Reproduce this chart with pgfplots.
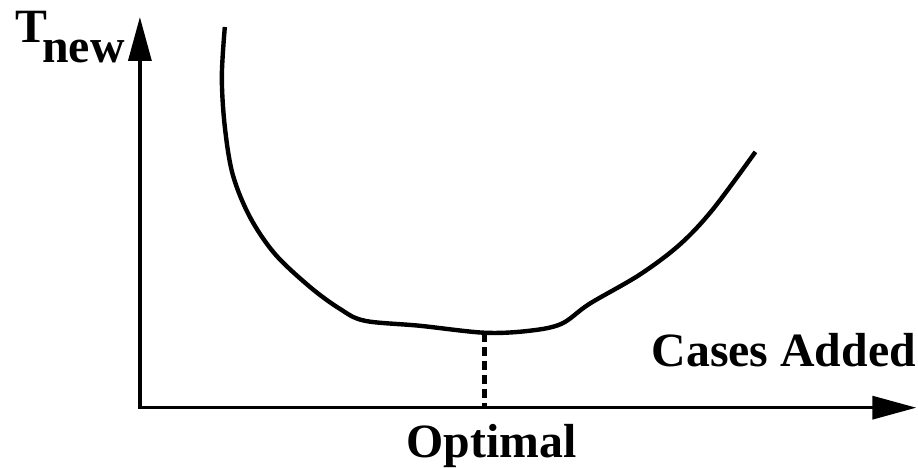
\documentclass[border=0pt]{standalone}
\usepackage{fontspec}
\setmainfont{Liberation Serif}
\usepackage{pgfplots}
\pgfplotsset{compat=1.18}
\usetikzlibrary{arrows.meta}

\begin{document}
\begin{tikzpicture}
\begin{axis}[
  scale only axis, width=459bp, height=233.5bp,
  xmin=0, xmax=918, ymin=0, ymax=467,
  hide axis, clip=false,
]
% invisible frame, keeps the page at the reference size
\path (axis cs:0,0) rectangle (axis cs:918,467);
% axes
\draw[line width=1.7bp,-{Triangle[length=22bp,width=11.5bp]}]
  (axis cs:138,59) -- (axis cs:917,59);
\draw[line width=1.7bp,-{Triangle[length=22bp,width=11.5bp]}]
  (axis cs:140,59) -- (axis cs:140,450);
% cost curve
\addplot[black,line width=2.2bp,smooth,tension=0.55] coordinates {
  (225,440) (222,390) (225,340) (233,292) (250,250) (275,213)
  (310,180) (340,158) (365,146) (420,141) (485,134) (530,136)
  (562,143) (590,163) (640,192) (680,222) (713,257) (756,315)};
% optimum
\addplot[black,line width=2.2bp,dash pattern=on 4.5bp off 2.5bp] coordinates {
  (485,134) (485,59)};
\node[anchor=base west,inner sep=0,font=\fontsize{24}{28}\selectfont\bfseries]
  at (axis cs:15,424) {T};
\node[anchor=base west,inner sep=0,font=\fontsize{24}{28}\selectfont\bfseries]
  at (axis cs:42,404) {new};
\node[anchor=base east,inner sep=0,font=\fontsize{24}{28}\selectfont\bfseries]
  at (axis cs:917,100) {Cases Added};
\node[anchor=base,inner sep=0,font=\fontsize{24}{28}\selectfont\bfseries]
  at (axis cs:492,9) {Optimal};
\end{axis}
\end{tikzpicture}
\end{document}
